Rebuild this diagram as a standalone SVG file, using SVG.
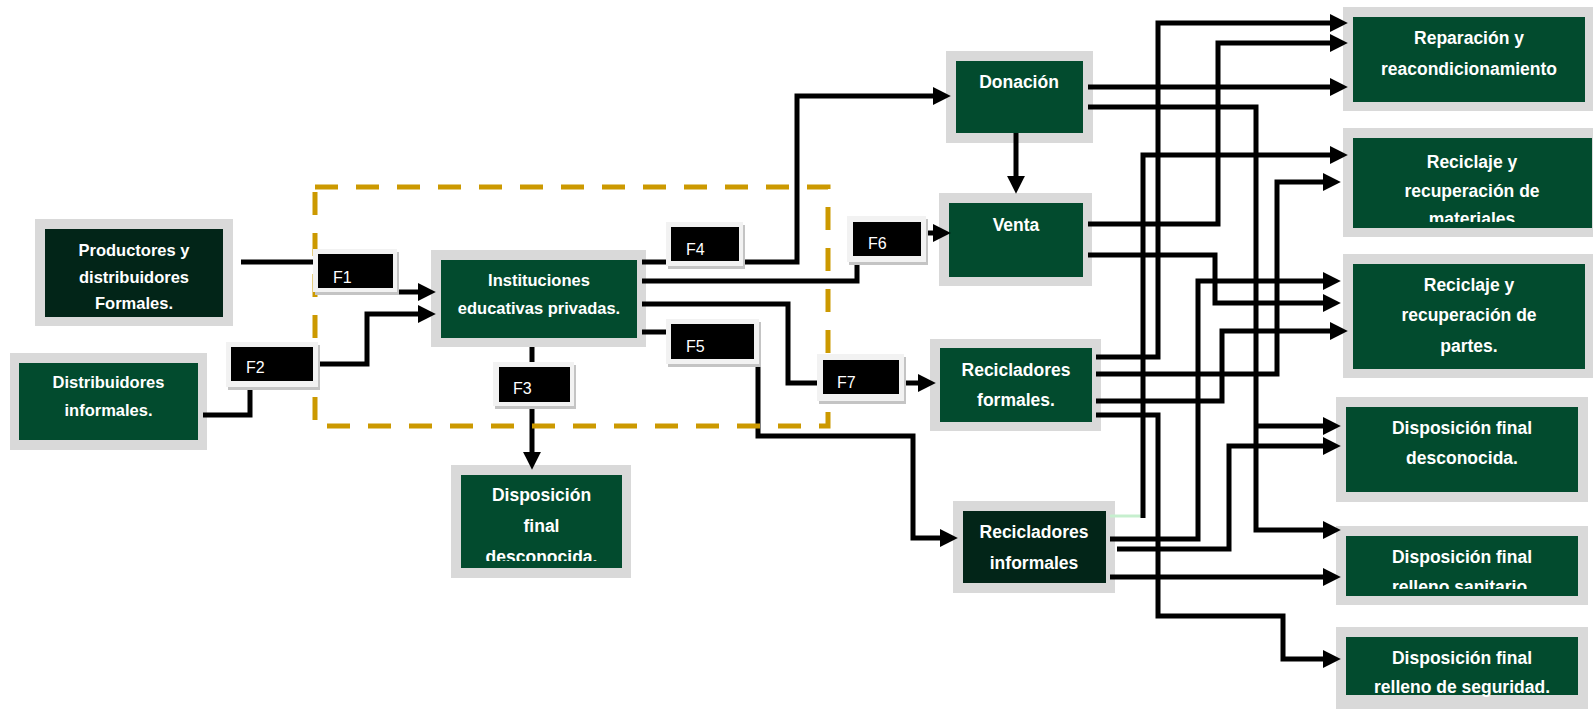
<svg xmlns="http://www.w3.org/2000/svg" width="1593" height="709" viewBox="0 0 1593 709">
<style>
.o{fill:#d9d9d9}
.i{fill:#024b2e}
.d{fill:#022518}
.t{fill:#fff;font-family:"Liberation Sans",Arial,sans-serif;font-weight:bold;font-size:17.5px;text-anchor:middle}
.ts{font-size:16.5px}
.c{fill:none;stroke:#000;stroke-width:5;stroke-linejoin:miter}
.sh{fill:#c4c4c4}
.fr{fill:#f2f2f2}
.fb{fill:#000}
.fl{fill:#fff;font-family:"Liberation Sans",Arial,sans-serif;font-size:16px}
</style>
<defs>
<marker id="ah" markerUnits="userSpaceOnUse" markerWidth="18" markerHeight="18" viewBox="0 0 17 17" refX="3" refY="8.5" orient="auto"><path d="M0,0L17,8.5L0,17z" fill="#000"/></marker>
<clipPath id="c1"><rect x="45" y="229" width="178" height="82"/></clipPath>
<clipPath id="c4"><rect x="461" y="475" width="161" height="86"/></clipPath>
<clipPath id="c10"><rect x="1353" y="138" width="239" height="84"/></clipPath>
<clipPath id="c13"><rect x="1346" y="536" width="232" height="53"/></clipPath>
</defs>
<rect width="1593" height="709" fill="#fff"/>

<g id="productores">
<rect class="o" x="35" y="219" width="198" height="107"/>
<rect class="d" x="45" y="229" width="178" height="88"/>
<g clip-path="url(#c1)"><text class="t ts" x="134" y="256">Productores y</text><text class="t ts" x="134" y="283">distribuidores</text><text class="t ts" x="134" y="309">Formales.</text></g>
</g>
<g id="distribuidores">
<rect class="o" x="10" y="353" width="197" height="97"/>
<rect class="i" x="19" y="363" width="179" height="77"/>
<text class="t ts" x="108.5" y="388">Distribuidores</text><text class="t ts" x="108.5" y="416">informales.</text>
</g>
<g id="instituciones">
<rect class="o" x="431" y="250" width="215" height="97"/>
<rect class="i" x="441" y="260" width="196" height="78"/>
<text class="t ts" x="539" y="286">Instituciones</text><text class="t ts" x="539" y="314">educativas privadas.</text>
</g>
<g id="disposicion-izq">
<rect class="o" x="451" y="465" width="180" height="113"/>
<rect class="i" x="461" y="475" width="161" height="93"/>
<g clip-path="url(#c4)"><text class="t" x="541.5" y="501">Disposición</text><text class="t" x="541.5" y="532">final</text><text class="t" x="541.5" y="563">desconocida.</text></g>
</g>
<g id="donacion">
<rect class="o" x="946" y="51" width="147" height="92"/>
<rect class="i" x="956" y="61" width="127" height="72"/>
<text class="t" x="1019" y="88">Donación</text>
</g>
<g id="venta">
<rect class="o" x="939" y="193" width="153" height="93"/>
<rect class="i" x="949" y="203" width="134" height="74"/>
<text class="t" x="1016" y="231">Venta</text>
</g>
<g id="recicladores-formales">
<rect class="o" x="930" y="339" width="171" height="92"/>
<rect class="i" x="940" y="348" width="152" height="74"/>
<text class="t" x="1016" y="376">Recicladores</text><text class="t" x="1016" y="406">formales.</text>
</g>
<g id="recicladores-informales">
<rect class="o" x="953" y="501" width="162" height="92"/>
<rect class="d" x="963" y="511" width="143" height="72"/>
<text class="t" x="1034" y="538">Recicladores</text><text class="t" x="1034" y="569">informales</text>
</g>
<g id="reparacion">
<rect class="o" x="1343" y="7" width="250" height="104"/>
<rect class="i" x="1353" y="17" width="232" height="85"/>
<text class="t" x="1469" y="44">Reparación y</text><text class="t" x="1469" y="75">reacondicionamiento</text>
</g>
<g id="reciclaje-materiales">
<rect class="o" x="1343" y="128" width="250" height="109"/>
<rect class="i" x="1353" y="138" width="239" height="90"/>
<g clip-path="url(#c10)"><text class="t" x="1472" y="168">Reciclaje y</text><text class="t" x="1472" y="197">recuperación de</text><text class="t" x="1472" y="225">materiales</text></g>
</g>
<g id="reciclaje-partes">
<rect class="o" x="1343" y="254" width="250" height="124"/>
<rect class="i" x="1353" y="264" width="232" height="105"/>
<text class="t" x="1469" y="291">Reciclaje y</text><text class="t" x="1469" y="321">recuperación de</text><text class="t" x="1469" y="352">partes.</text>
</g>
<g id="disposicion-desconocida">
<rect class="o" x="1336" y="397" width="252" height="105"/>
<rect class="i" x="1346" y="407" width="232" height="85"/>
<text class="t" x="1462" y="434">Disposición final</text><text class="t" x="1462" y="464">desconocida.</text>
</g>
<g id="relleno-sanitario">
<rect class="o" x="1336" y="526" width="252" height="79"/>
<rect class="i" x="1346" y="536" width="232" height="60"/>
<g clip-path="url(#c13)"><text class="t" x="1462" y="563">Disposición final</text><text class="t" x="1462" y="593">relleno sanitario.</text></g>
</g>
<g id="relleno-seguridad">
<rect class="o" x="1336" y="627" width="252" height="82"/>
<rect class="i" x="1346" y="637" width="232" height="58"/>
<text class="t" x="1462" y="664">Disposición final</text><text class="t" x="1462" y="693">relleno de seguridad.</text>
</g>

<g id="connectors">
<path class="c" d="M241,262H315"/>
<path class="c" d="M399,292H421" marker-end="url(#ah)"/>
<path class="c" d="M203,415H250V388"/>
<path class="c" d="M320,364H367V314H421" marker-end="url(#ah)"/>
<path class="c" d="M642,262H668"/>
<path class="c" d="M745,262H797V96H936" marker-end="url(#ah)"/>
<path class="c" d="M642,281H857V263"/>
<path class="c" d="M928,233H936" marker-end="url(#ah)"/>
<path class="c" d="M642,304H788V383H819"/>
<path class="c" d="M906,383H921" marker-end="url(#ah)"/>
<path class="c" d="M642,332H668"/>
<path class="c" d="M758,365V436H913V538H943" marker-end="url(#ah)"/>
<path class="c" d="M532,347V364"/>
<path class="c" d="M532,407V455" marker-end="url(#ah)"/>
<path class="c" d="M1016,133V179" marker-end="url(#ah)"/>
<path class="c" d="M1088,87H1333" marker-end="url(#ah)"/>
<path class="c" d="M1088,107H1256V530H1326" marker-end="url(#ah)"/>
<path class="c" d="M1256,426H1326" marker-end="url(#ah)"/>
<path class="c" d="M1088,224H1218V43H1333" marker-end="url(#ah)"/>
<path class="c" d="M1088,255H1215V303H1326" marker-end="url(#ah)"/>
<path class="c" d="M1096,357H1158V23H1333" marker-end="url(#ah)"/>
<path class="c" d="M1096,374H1277V182H1326" marker-end="url(#ah)"/>
<path class="c" d="M1096,401H1222V331H1333" marker-end="url(#ah)"/>
<path class="c" d="M1096,415H1158V616H1283V659H1326" marker-end="url(#ah)"/>
<path d="M1110,516H1141" fill="none" stroke="#c6efce" stroke-width="3"/>
<path class="c" d="M1143,518V155H1333" marker-end="url(#ah)"/>
<path class="c" d="M1110,539H1198V281H1326" marker-end="url(#ah)"/>
<path class="c" d="M1117,549H1229V446H1326" marker-end="url(#ah)"/>
<path class="c" d="M1110,577H1326" marker-end="url(#ah)"/>
</g>

<rect id="limite" x="315" y="187" width="513" height="239" fill="none" stroke="#cc9900" stroke-width="5" stroke-dasharray="23 18"/>

<g id="F1"><rect class="sh" x="315" y="252" width="84" height="43"/><rect class="fr" x="313" y="249" width="84" height="43"/><rect class="fb" x="318" y="254" width="75" height="34"/><text class="fl" x="333" y="283">F1</text></g>
<g id="F2"><rect class="sh" x="228" y="345" width="92" height="45"/><rect class="fr" x="226" y="342" width="92" height="45"/><rect class="fb" x="231" y="347" width="82" height="34"/><text class="fl" x="246" y="373">F2</text></g>
<g id="F3"><rect class="sh" x="495" y="365" width="81" height="44"/><rect class="fr" x="493" y="362" width="81" height="44"/><rect class="fb" x="499" y="367" width="71" height="35"/><text class="fl" x="513" y="394">F3</text></g>
<g id="F4"><rect class="sh" x="668" y="225" width="77" height="44"/><rect class="fr" x="666" y="222" width="77" height="44"/><rect class="fb" x="671" y="227" width="68" height="34"/><text class="fl" x="686" y="255">F4</text></g>
<g id="F5"><rect class="sh" x="668" y="322" width="93" height="45"/><rect class="fr" x="666" y="319" width="93" height="45"/><rect class="fb" x="671" y="324" width="83" height="35"/><text class="fl" x="686" y="352">F5</text></g>
<g id="F6"><rect class="sh" x="849" y="219" width="79" height="46"/><rect class="fr" x="847" y="216" width="79" height="46"/><rect class="fb" x="853" y="222" width="68" height="34"/><text class="fl" x="868" y="249">F6</text></g>
<g id="F7"><rect class="sh" x="819" y="357" width="87" height="47"/><rect class="fr" x="817" y="354" width="87" height="47"/><rect class="fb" x="823" y="360" width="76" height="34"/><text class="fl" x="837" y="388">F7</text></g>
</svg>
